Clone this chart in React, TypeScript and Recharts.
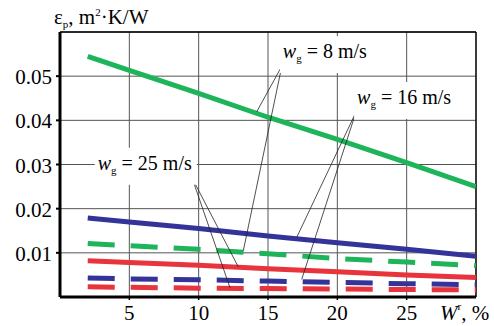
import React from "react";
import { LineChart, Line, XAxis, YAxis, CartesianGrid, ReferenceLine, ReferenceDot } from "recharts";

// moisture content W^r, %
const wr = [2, 5, 10, 15, 20, 25, 30];

// thermal resistance of deposits, m2·K/W
const greenSolid = [0.0545, 0.0513, 0.0461, 0.0407, 0.0357, 0.0304, 0.025];
const greenDashed = [0.0121, 0.0116, 0.0108, 0.0098, 0.0087, 0.0079, 0.0071];
const blueSolid = [0.0179, 0.017, 0.0155, 0.0138, 0.0123, 0.0108, 0.0092];
const blueDashed = [0.0043, 0.0041, 0.0039, 0.0036, 0.0033, 0.003, 0.0028];
const redSolid = [0.0082, 0.0078, 0.0072, 0.0064, 0.0057, 0.005, 0.0044];
const redDashed = [0.0023, 0.0022, 0.002, 0.0019, 0.0018, 0.0017, 0.0016];

const xTicks = [5, 10, 15, 20, 25];
const yTicks = [0.01, 0.02, 0.03, 0.04, 0.05];

const GREEN = "#1db45a";
const BLUE = "#33339a";
const RED = "#e8343c";
const FONT = "Liberation Serif, DejaVu Serif, serif";

const pts = (vals: number[]) => wr.map((x, i) => ({ x, y: vals[i] }));

const series = [
  { key: "gs", vals: greenSolid, color: GREEN, dash: undefined },
  { key: "bs", vals: blueSolid, color: BLUE, dash: undefined },
  { key: "gd", vals: greenDashed, color: GREEN, dash: "27 16" },
  { key: "rs", vals: redSolid, color: RED, dash: undefined },
  { key: "bd", vals: blueDashed, color: BLUE, dash: "27 16" },
  { key: "rd", vals: redDashed, color: RED, dash: "27 16" },
];

// annotation callouts: underline start/end, where the leaders start, and the curves they point to
const callouts = [
  { speed: "8", x0: 16.0, x1: 22.5, y: 0.0523, bw: 96, from: 16.0, to: [[14.18, 0.0419], [13.22, 0.0105]] },
  { speed: "16", x0: 21.35, x1: 28.7, y: 0.0419, bw: 104, from: 21.35, to: [[17.07, 0.0135], [17.43, 0.004]] },
  { speed: "25", x0: 2.65, x1: 9.52, y: 0.027, bw: 102, from: 9.52, to: [[12.86, 0.0068], [12.26, 0.0021]] },
];

const YTick = (props: any) => {
  const { y, payload } = props;
  return (
    <text x={52} y={y + 8} textAnchor="end" fontFamily={FONT} fontSize={21} fill="#000">
      {payload.value.toFixed(2)}
    </text>
  );
};

const XTick = (props: any) => {
  const { x, payload } = props;
  return (
    <text x={x} y={320} textAnchor="middle" fontFamily={FONT} fontSize={21} fill="#000">
      {payload.value}
    </text>
  );
};

const makeLabel = (speed: string, bw: number) => (props: any) => {
  const { cx, cy } = props;
  return (
    <g>
      <rect x={cx - 2} y={cy - 30} width={bw} height={37} fill="#fff" />
      <text x={cx + 1} y={cy - 8} fontFamily={FONT} fontSize={20} fill="#000">
        <tspan fontStyle="italic">w</tspan>
        <tspan fontSize={11} dy={4}>g</tspan>
        <tspan dy={-4}>{` = ${speed} m/s`}</tspan>
      </text>
    </g>
  );
};

export default function App() {
  return (
    <div style={{ position: "absolute", left: 0, top: 0, width: 494, height: 326, background: "#fff", fontFamily: FONT }}>
      <LineChart width={494} height={326} margin={{ top: 32, right: 18, bottom: 0, left: 0 }}>
        <CartesianGrid stroke="#555" strokeWidth={1} />
        <XAxis
          type="number"
          dataKey="x"
          domain={[0, 30]}
          ticks={xTicks}
          height={29}
          axisLine={{ stroke: "#000", strokeWidth: 3 }}
          tickLine={{ stroke: "#000", strokeWidth: 1.5 }}
          tickSize={3}
          tick={<XTick />}
          allowDataOverflow
        />
        <YAxis
          type="number"
          domain={[0, 0.06]}
          ticks={yTicks}
          width={60}
          axisLine={{ stroke: "#000", strokeWidth: 3 }}
          tickLine={{ stroke: "#000", strokeWidth: 2 }}
          tickSize={4}
          tick={<YTick />}
          allowDataOverflow
        />
        <ReferenceLine y={0.06} stroke="#000" strokeWidth={1.3} />
        <ReferenceLine x={30} stroke="#000" strokeWidth={1.3} />
        {callouts.map((c) => (
          <ReferenceDot
            key={"lab" + c.speed}
            x={c.x0}
            y={c.y}
            r={0}
            ifOverflow="visible"
            shape={makeLabel(c.speed, c.bw)}
          />
        ))}
        {series.map((s) => (
          <Line
            key={s.key}
            data={pts(s.vals)}
            dataKey="y"
            type="linear"
            stroke={s.color}
            strokeWidth={5}
            strokeDasharray={s.dash}
            dot={false}
            activeDot={false}
            isAnimationActive={false}
          />
        ))}
        {callouts.map((c) => (
          <ReferenceLine
            key={"ul" + c.speed}
            segment={[{ x: c.x0, y: c.y }, { x: c.x1, y: c.y }]}
            stroke="#222"
            strokeWidth={1}
            ifOverflow="visible"
          />
        ))}
        {callouts.flatMap((c) =>
          c.to.map((t, i) => (
            <ReferenceLine
              key={"ld" + c.speed + i}
              segment={[{ x: c.from, y: c.y }, { x: t[0], y: t[1] }]}
              stroke="#222"
              strokeWidth={0.8}
              ifOverflow="visible"
            />
          ))
        )}
      </LineChart>
      <svg width={494} height={326} style={{ position: "absolute", left: 0, top: 0, pointerEvents: "none" }}>
        <text x={54} y={24} fontFamily={FONT} fontSize={21} fill="#000">
          ε<tspan fontSize={11} dy={4}>p</tspan>
          <tspan dy={-4}>, m</tspan>
          <tspan fontSize={11} dy={-8}>2</tspan>
          <tspan dy={8}>·K/W</tspan>
        </text>
        <text x={440} y={320} fontFamily={FONT} fontSize={21} fill="#000">
          <tspan fontStyle="italic">W</tspan>
          <tspan fontSize={11} dy={-10}>r</tspan>
          <tspan dy={10}>, %</tspan>
        </text>
      </svg>
    </div>
  );
}
